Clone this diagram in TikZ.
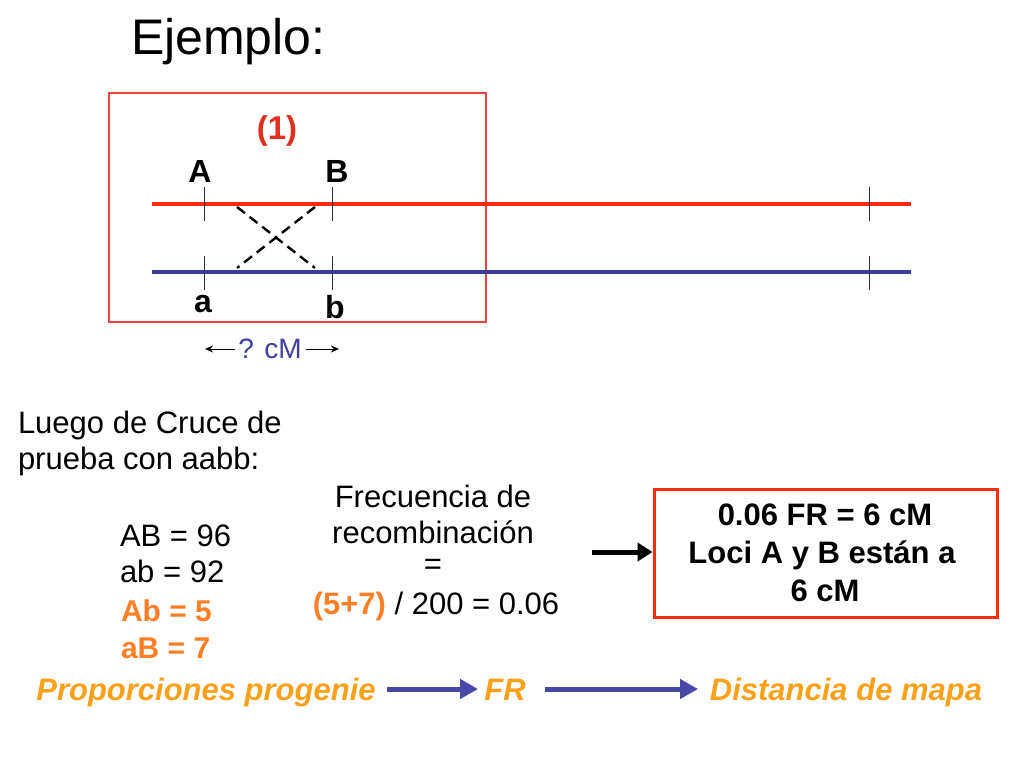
\documentclass[tikz,border=0pt]{standalone}
\usepackage{fontspec}
\setmainfont{Liberation Sans}
\usetikzlibrary{arrows.meta}
\definecolor{chrred}{HTML}{FF2A10}
\definecolor{chrblue}{HTML}{3C3CA0}
\definecolor{boxred}{HTML}{F04040}
\definecolor{titred}{HTML}{E03020}
\definecolor{orng}{HTML}{FF7F27}
\definecolor{yorng}{HTML}{F9A11B}
\definecolor{arrblue}{HTML}{4848A8}
\definecolor{cmblue}{HTML}{4040A0}
\newcommand\fsz[1]{\fontsize{#1}{#1}\selectfont}
\begin{document}
\begin{tikzpicture}[x=1pt,y=-1pt,
  txt/.style={inner sep=0pt,outer sep=0pt},
  chrline/.style={line width=4pt},
  tick/.style={line width=1pt,black!80},
  cross/.style={line width=2.4pt,dash pattern=on 10pt off 6pt},
  thinarr/.style={line width=1pt,-{Stealth[length=8pt,width=7pt]}},
  bigarr/.style={line width=5pt,arrblue,-{Triangle[length=18pt,width=19pt]}},
  blackarr/.style={line width=5pt,black,-{Triangle[length=15pt,width=18pt]}}]
\useasboundingbox (0,0) rectangle (1024,768);
\fill[white] (0,0) rectangle (1024,768);
% title
\node[txt,anchor=base west] (title) at (131,55) {\fsz{50}Ejemplo:};
% red frame
\draw[boxred,line width=1.2pt] (109,93) rectangle (486,322);
\node[txt,anchor=base,text=titred] (one) at (277,139) {\fsz{33}\bfseries (1)};
% chromosomes
\draw[chrline,chrred] (152,204) -- (911,204);
\draw[chrline,chrblue] (152,272) -- (911,272);
% ticks
\foreach \x in {204,332,869}{
  \draw[tick] (\x,187) -- (\x,221);
  \draw[tick] (\x,256) -- (\x,290);
}
% crossover
\draw[cross] (237,207) -- (315,268);
\draw[cross] (315,207) -- (237,268);
% locus labels
\node[txt,anchor=base] (lA) at (200,182) {\fsz{32}\bfseries A};
\node[txt,anchor=base] (lB) at (337,182) {\fsz{32}\bfseries B};
\node[txt,anchor=base] (la) at (203,312) {\fsz{32}\bfseries a};
\node[txt,anchor=base] (lb) at (335,318) {\fsz{32}\bfseries b};
% ? cM
\node[txt,anchor=base,text=cmblue] (cm) at (270,358) {\fsz{28}? cM};
\coordinate (cmL) at (205,349);
\coordinate (cmR) at (339,349);
\draw[thinarr] (cm.west |- cmL) ++(-3,0) -- (cmL);
\draw[thinarr] (cm.east |- cmR) ++(4,0) -- (cmR);
% Luego
\node[txt,anchor=base west] (l1) at (18,433) {\fsz{31}Luego de Cruce de};
\node[txt,anchor=base west] (l2) at (18,469) {\fsz{31}prueba con aabb:};
% counts
\node[txt,anchor=base west] (c1) at (120,546) {\fsz{31}AB = 96};
\node[txt,anchor=base west] (c2) at (120,582) {\fsz{31}ab = 92};
\node[txt,anchor=base west,text=orng] (c3) at (121,621) {\fsz{30}\bfseries Ab = 5};
\node[txt,anchor=base west,text=orng] (c4) at (121,658) {\fsz{30}\bfseries aB = 7};
% frecuencia
\node[txt,anchor=base] (f1) at (433,507) {\fsz{31}Frecuencia de};
\node[txt,anchor=base] (f2) at (433,543) {\fsz{31}recombinación};
\node[txt,anchor=center] (f3) at (433,567) {\fsz{31}=};
\node[txt,anchor=base] (f4) at (436,614) {\fsz{31}{\color{orng}\bfseries (5+7)} / 200 = 0.06};
% result box
\node[draw=chrred,line width=3pt,minimum width=343pt,minimum height=128pt,inner sep=0pt] (box) at (825.5,553) {};
\node[txt,anchor=base] (b1) at (825,525) {\fsz{31}\bfseries 0.06 FR = 6 cM};
\node[txt,anchor=base] (b2) at (822,563) {\fsz{31}\bfseries Loci A y B están a};
\node[txt,anchor=base] (b3) at (825,601) {\fsz{31}\bfseries 6 cM};
\coordinate (barS) at (592,552);
\draw[blackarr] (barS) -- (box.west |- barS);
% bottom row
\node[txt,anchor=base,text=yorng] (prop) at (206,700) {\fsz{31}\bfseries\itshape Proporciones progenie};
\node[txt,anchor=base,text=yorng] (fr) at (505,700) {\fsz{31}\bfseries\itshape FR};
\node[txt,anchor=base,text=yorng] (dist) at (846,700) {\fsz{31}\bfseries\itshape Distancia de mapa};
\coordinate (a1s) at (387,689);
\coordinate (a1e) at (478,689);
\coordinate (a2s) at (545,689);
\coordinate (a2e) at (698,689);
\draw[bigarr] (a1s) -- (a1e);
\draw[bigarr] (a2s) -- (a2e);
\end{tikzpicture}
\end{document}
